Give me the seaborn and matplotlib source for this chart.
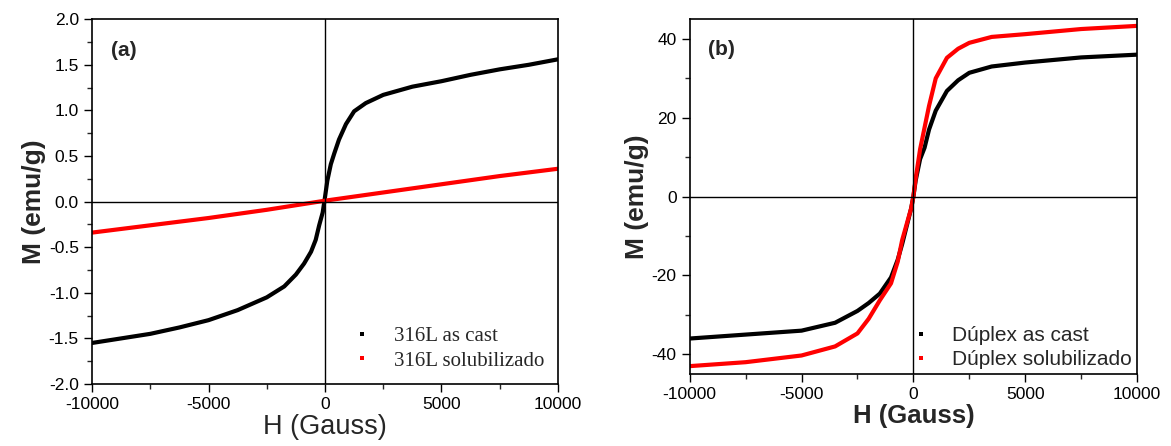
import numpy as np
import pandas as pd
import matplotlib.pyplot as plt
import seaborn as sns
from matplotlib.lines import Line2D
from matplotlib.ticker import MultipleLocator

# Painel (a) - 316L
h_a_cast = [-10000, -8750, -7500, -6250, -5000, -3750, -2500, -1750, -1250, -900, -600, -400, -250, -100, 0,
            100, 250, 400, 600, 900, 1250, 1750, 2500, 3750, 5000, 6250, 7500, 8750, 10000]
m_a_cast = [-1.55, -1.50, -1.45, -1.38, -1.30, -1.19, -1.05, -0.93, -0.80, -0.68, -0.55, -0.42, -0.26, -0.12, 0.05,
            0.23, 0.41, 0.53, 0.68, 0.85, 0.99, 1.08, 1.17, 1.26, 1.32, 1.39, 1.45, 1.50, 1.56]
h_a_sol = [-10000, -7500, -5000, -2500, 0, 2500, 5000, 7500, 10000]
m_a_sol = [-0.34, -0.26, -0.18, -0.09, 0.01, 0.10, 0.19, 0.28, 0.36]

# Painel (b) - Duplex
h_b = [-10000, -7500, -5000, -3500, -2500, -2000, -1500, -1000, -700, -500, -300, -100, 0,
       100, 300, 500, 700, 1000, 1500, 2000, 2500, 3500, 5000, 7500, 10000]
m_b_cast = [-36, -35, -34, -32, -29, -27, -24.6, -20.5, -16, -12, -7.5, -3, 0,
            4, 9.5, 12.4, 17, 21.8, 26.8, 29.5, 31.4, 33, 34, 35.3, 36]
m_b_sol = [-43, -42, -40.3, -38, -34.7, -31, -26.3, -22, -16.5, -11, -7, -3, 0,
           4.5, 12, 17.5, 23, 30, 35.2, 37.5, 39, 40.5, 41.2, 42.5, 43.3]

labels_a = ['316L as cast', '316L solubilizado']
labels_b = ['Dúplex as cast', 'Dúplex solubilizado']

df_a = pd.concat([
    pd.DataFrame({'H': h_a_cast, 'M': m_a_cast, 'amostra': labels_a[0]}),
    pd.DataFrame({'H': h_a_sol, 'M': m_a_sol, 'amostra': labels_a[1]}),
])
df_b = pd.concat([
    pd.DataFrame({'H': h_b, 'M': m_b_cast, 'amostra': labels_b[0]}),
    pd.DataFrame({'H': h_b, 'M': m_b_sol, 'amostra': labels_b[1]}),
])

sns.set_style('ticks')
plt.rcParams['font.family'] = ['Liberation Sans', 'DejaVu Sans']
plt.rcParams['axes.unicode_minus'] = False

fig = plt.figure(figsize=(11.71, 4.46), dpi=100)
ax1 = fig.add_axes([0.0786, 0.139, 0.3979, 0.818])
ax2 = fig.add_axes([0.589, 0.1614, 0.382, 0.7956])

cores = ['black', 'red']

def painel(ax, df, labels, ylim, ymaj, ymin, tag, leg_font, xlab_bold, leg_pos):
    sns.lineplot(data=df, x='H', y='M', hue='amostra', palette=dict(zip(labels, cores)),
                 linewidth=3.0, sort=True, legend=False, ax=ax)
    ax.axhline(0, color='black', lw=1)
    ax.axvline(0, color='black', lw=1)
    ax.set_xlim(-10000, 10000)
    ax.set_ylim(*ylim)
    ax.xaxis.set_major_locator(MultipleLocator(5000))
    ax.xaxis.set_minor_locator(MultipleLocator(2500))
    ax.yaxis.set_major_locator(MultipleLocator(ymaj))
    ax.yaxis.set_minor_locator(MultipleLocator(ymin))
    ax.tick_params(which='major', direction='out', length=6, width=1, labelsize=12.5, colors='black')
    ax.tick_params(which='minor', direction='out', length=3.5, width=1)
    ax.tick_params(top=False, right=False, which='both')
    for s in ax.spines.values():
        s.set_linewidth(1.2)
        s.set_color('black')
    ax.set_xlabel('H (Gauss)', fontsize=19.5 if not xlab_bold else 18.5,
                  fontweight='bold' if xlab_bold else 'normal', labelpad=1)
    ax.set_ylabel('M (emu/g)', fontsize=19, fontweight='bold', labelpad=2)
    ax.text(0.04, 0.9, tag, transform=ax.transAxes, fontsize=15, fontweight='bold')
    handles = [Line2D([], [], ls='', marker='s', markersize=3, color=c, markeredgewidth=0) for c in cores]
    ax.legend(handles, labels, loc='lower right', bbox_to_anchor=leg_pos, frameon=False,
              prop=leg_font, handletextpad=0.9, labelspacing=0.25, handlelength=1.2)

painel(ax1, df_a, labels_a, (-2, 2), 0.5, 0.25, '(a)',
       {'family': 'Liberation Serif', 'size': 15}, False, (1.01, -0.015))
painel(ax2, df_b, labels_b, (-45, 45), 20, 10, '(b)',
       {'family': 'Liberation Sans', 'size': 15}, True, (1.03, -0.04))

plt.savefig('out.png', dpi=100)
